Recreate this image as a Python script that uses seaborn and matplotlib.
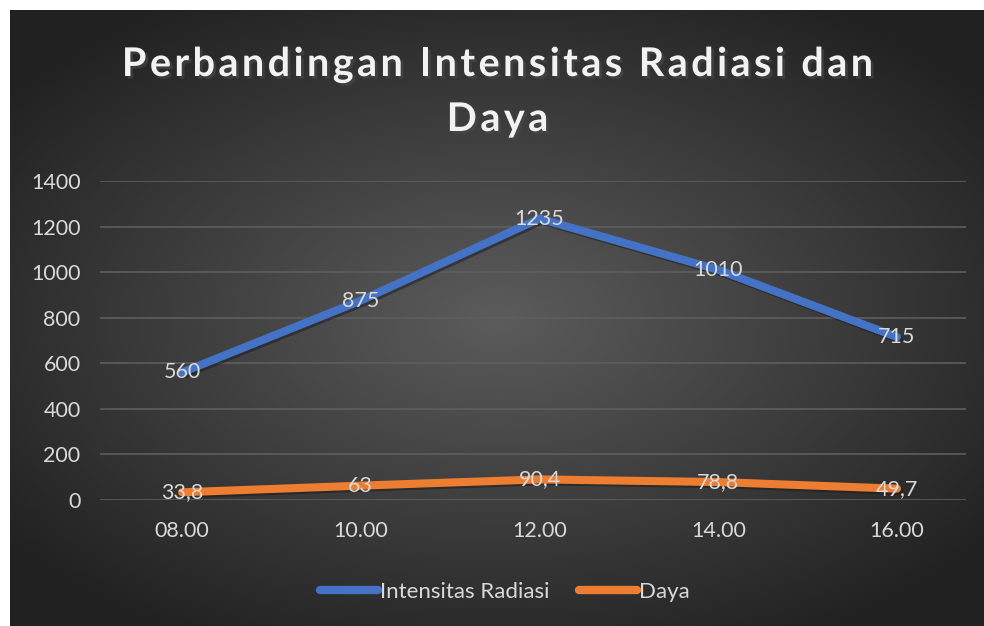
import numpy as np
import pandas as pd
import matplotlib.pyplot as plt
import matplotlib.patheffects as pe
import seaborn as sns

# data
jam = ["08.00", "10.00", "12.00", "14.00", "16.00"]
intensitas = [560, 875, 1235, 1010, 715]
daya = [33.8, 63, 90.4, 78.8, 49.7]
series_names = ["Intensitas Radiasi", "Daya"]
colors = ["#4472C4", "#ED7D31"]
title_lines = ["Perbandingan Intensitas Radiasi dan", "Daya"]

df = pd.DataFrame({
    "jam": jam * 2,
    "nilai": intensitas + daya,
    "seri": [series_names[0]] * len(jam) + [series_names[1]] * len(jam),
})

sns.set_theme(style="dark")
plt.rcParams["font.family"] = ["Lato", "DejaVu Sans"]

W, H = 984, 626
fig = plt.figure(figsize=(W / 100, H / 100), dpi=100)
fig.patch.set_facecolor("white")

# dark radial-gradient background (thin white margin top/left)
bg = fig.add_axes([10 / W, 0, (W - 10) / W, (H - 10) / H], zorder=0)
yy, xx = np.mgrid[-1:1:300j, -1:1:480j]
r = np.sqrt((xx * 0.95) ** 2 + (yy * 1.0) ** 2)
shade = np.clip(0.36 - 0.19 * r, 0.13, 0.36)
bg.imshow(np.dstack([shade] * 3), aspect="auto", extent=[0, 1, 0, 1])
bg.set_axis_off()

ax = fig.add_axes([100 / W, 1 - 500 / H, 866 / W, 319 / H], zorder=1)
ax.set_facecolor("none")

sns.lineplot(data=df, x="jam", y="nilai", hue="seri", palette=colors,
             linewidth=5.8, ax=ax, legend=False, sort=False,
             path_effects=[pe.SimpleLineShadow(offset=(1.5, -1.5), alpha=0.5), pe.Normal()])

lbl_size = 15.5
for vals in (intensitas, daya):
    for i, v in enumerate(vals):
        ax.text(i, v, f"{v:g}".replace(".", ","), ha="center", va="center",
                fontsize=lbl_size, color="#D9D9D9", zorder=5)

ax.set_xlim(-0.459, 4.386)
ax.set_ylim(0, 1400)
ax.set_yticks(range(0, 1401, 200))
ax.grid(axis="y", color="#5E5E5E", linewidth=1.2)
ax.grid(axis="x", visible=False)
for s in ax.spines.values():
    s.set_visible(False)
ax.tick_params(axis="both", colors="#D9D9D9", labelsize=lbl_size, length=0)
ax.tick_params(axis="y", pad=14)
ax.tick_params(axis="x", pad=15)
ax.set_xlabel("")
ax.set_ylabel("")

# title with letter spacing, laid out char by char
renderer = fig.canvas.get_renderer()
tsize, track = 28.5, 3.4
shadow = [pe.withSimplePatchShadow(offset=(2, -2), alpha=0.6)]


def text_w(s):
    t = fig.text(0, 0, s, fontsize=tsize, fontweight="bold")
    w = t.get_window_extent(renderer).width
    t.remove()
    return w


space_w = text_w("a a") - text_w("aa")
for line, base_y in zip(title_lines, [76, 131]):
    widths = [space_w if ch == " " else text_w(ch) for ch in line]
    total = sum(widths) + track * (len(line) - 1)
    x = 497.5 - total / 2
    for ch, w in zip(line, widths):
        if ch != " ":
            fig.text(x / W, 1 - base_y / H, ch, ha="left", va="baseline",
                     fontsize=tsize, fontweight="bold", color="#F2F2F2",
                     path_effects=shadow)
        x += w + track

handles = [plt.Line2D([], [], color=c, linewidth=6, solid_capstyle="round") for c in colors]
leg = fig.legend(handles, series_names, loc="center", bbox_to_anchor=(505 / W, 1 - 592 / H),
                 ncol=2, frameon=False, fontsize=16, handlelength=2.6,
                 handletextpad=0.1, columnspacing=1.3)
for t in leg.get_texts():
    t.set_color("#D9D9D9")

fig.savefig("out.png", dpi=100)
